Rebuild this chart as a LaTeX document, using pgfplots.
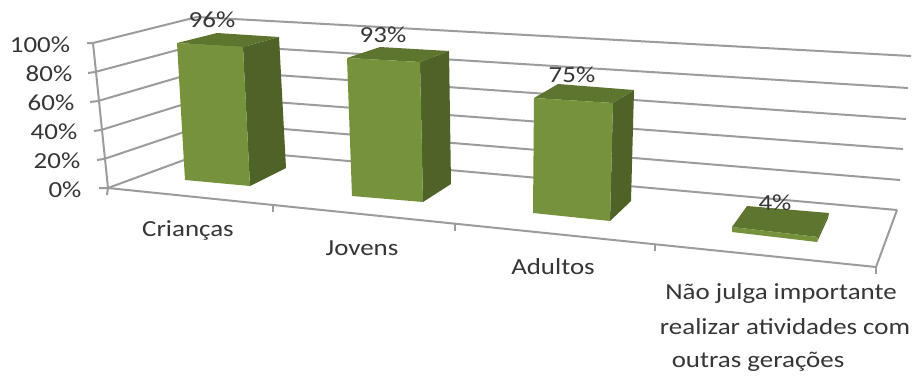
\documentclass[border=0pt]{standalone}
\usepackage{pgfplots}
\pgfplotsset{compat=1.18}
\usepackage{fontspec}
\setmainfont[FakeStretch=1.17]{Carlito}
\definecolor{front}{HTML}{76923C}
\definecolor{side}{HTML}{4F6228}
\definecolor{topf}{HTML}{5E7530}
\definecolor{gridc}{HTML}{9C9C9C}
\definecolor{txt}{HTML}{363636}
\pgfplotsset{
  wall/.style={draw=gridc,line width=2pt,no marks},
  faceF/.style={draw=none,fill=front,no marks},
  faceS/.style={draw=none,fill=side,no marks},
  faceT/.style={draw=none,fill=topf,no marks},
}
\newcommand{\lbl}[3]{\node[text=txt,font=\fontsize{23}{23}\selectfont,inner sep=0pt,anchor=center] at (axis cs:#1,#2) {#3};}
\begin{document}
\begin{tikzpicture}
\begin{axis}[
  scale only axis,width=913pt,height=376pt,
  xmin=0,xmax=913,ymin=0,ymax=376,y dir=reverse,
  hide axis,clip=false,
]
\addplot[draw=none,fill=white,no marks] coordinates {(0,0)(913,0)(913,376)(0,376)} --cycle;
% side wall + back wall levels 0..100 %
\addplot[wall] coordinates {(87,43)(93,43)(197,17)(911,56)};
\addplot[wall] coordinates {(88,73)(95,72)(200,44)(908,88)};
\addplot[wall] coordinates {(90,102)(98,101)(204,70)(906,119)};
\addplot[wall] coordinates {(94,131)(101,130)(207,97)(903,149)};
\addplot[wall] coordinates {(97,160)(104,159)(211,123)(900,180)};
\addplot[wall] coordinates {(99,188)(108,188)(214,149)(897,210)};
% vertical axis
\addplot[wall] coordinates {(93,43)(108,188)(107,195)};
% floor front edge and right edge
\addplot[wall] coordinates {(108,188)(876,267)(897,210)};
% floor ticks
\addplot[wall] coordinates {(273,205)(273,212)};
\addplot[wall] coordinates {(455,224)(455,231)};
\addplot[wall] coordinates {(655,245)(655,251)};
\addplot[wall] coordinates {(876,267)(876,274)};
% Criancas 96 %
\addplot[faceS] coordinates {(243,47)(279,37)(286,168)(250,186)} --cycle;
\addplot[faceT] coordinates {(177,43)(217,33)(279,37)(243,47)} --cycle;
\addplot[faceF] coordinates {(177,43)(243,47)(250,186)(185,180)} --cycle;
% Jovens 93 %
\addplot[faceS] coordinates {(420,62)(449,51)(451,184)(423,202)} --cycle;
\addplot[faceT] coordinates {(347,58)(380,47)(449,51)(420,62)} --cycle;
\addplot[faceF] coordinates {(347,58)(420,62)(423,202)(352,196)} --cycle;
% Adultos 75 %
\addplot[faceS] coordinates {(613,103)(634,90)(631,201)(610,221)} --cycle;
\addplot[faceT] coordinates {(534,98)(558,84)(634,90)(613,103)} --cycle;
\addplot[faceF] coordinates {(534,98)(613,103)(610,221)(533,213)} --cycle;
% Nao julga 4 %
\addplot[faceS] coordinates {(818,237)(829,213)(828,218)(817,242)} --cycle;
\addplot[faceT] coordinates {(732,227)(747,206)(829,213)(818,237)} --cycle;
\addplot[faceF] coordinates {(732,227)(818,237)(817,242)(732,232)} --cycle;
% tick labels
\lbl{40}{45}{100\%}
\lbl{49}{74}{80\%}
\lbl{51}{103}{60\%}
\lbl{54}{132}{40\%}
\lbl{57}{161}{20\%}
\lbl{65}{190}{0\%}
% data labels
\lbl{212}{20}{96\%}
\lbl{383}{35}{93\%}
\lbl{572}{75}{75\%}
\lbl{775}{203}{4\%}
% category labels
\lbl{188}{231}{Crianças}
\lbl{362}{248}{Jovens}
\lbl{553}{267}{Adultos}
\lbl{781}{293}{Não julga importante}
\lbl{785}{327}{realizar atividades com}
\lbl{758}{362}{outras gerações}
\end{axis}
\end{tikzpicture}
\end{document}
